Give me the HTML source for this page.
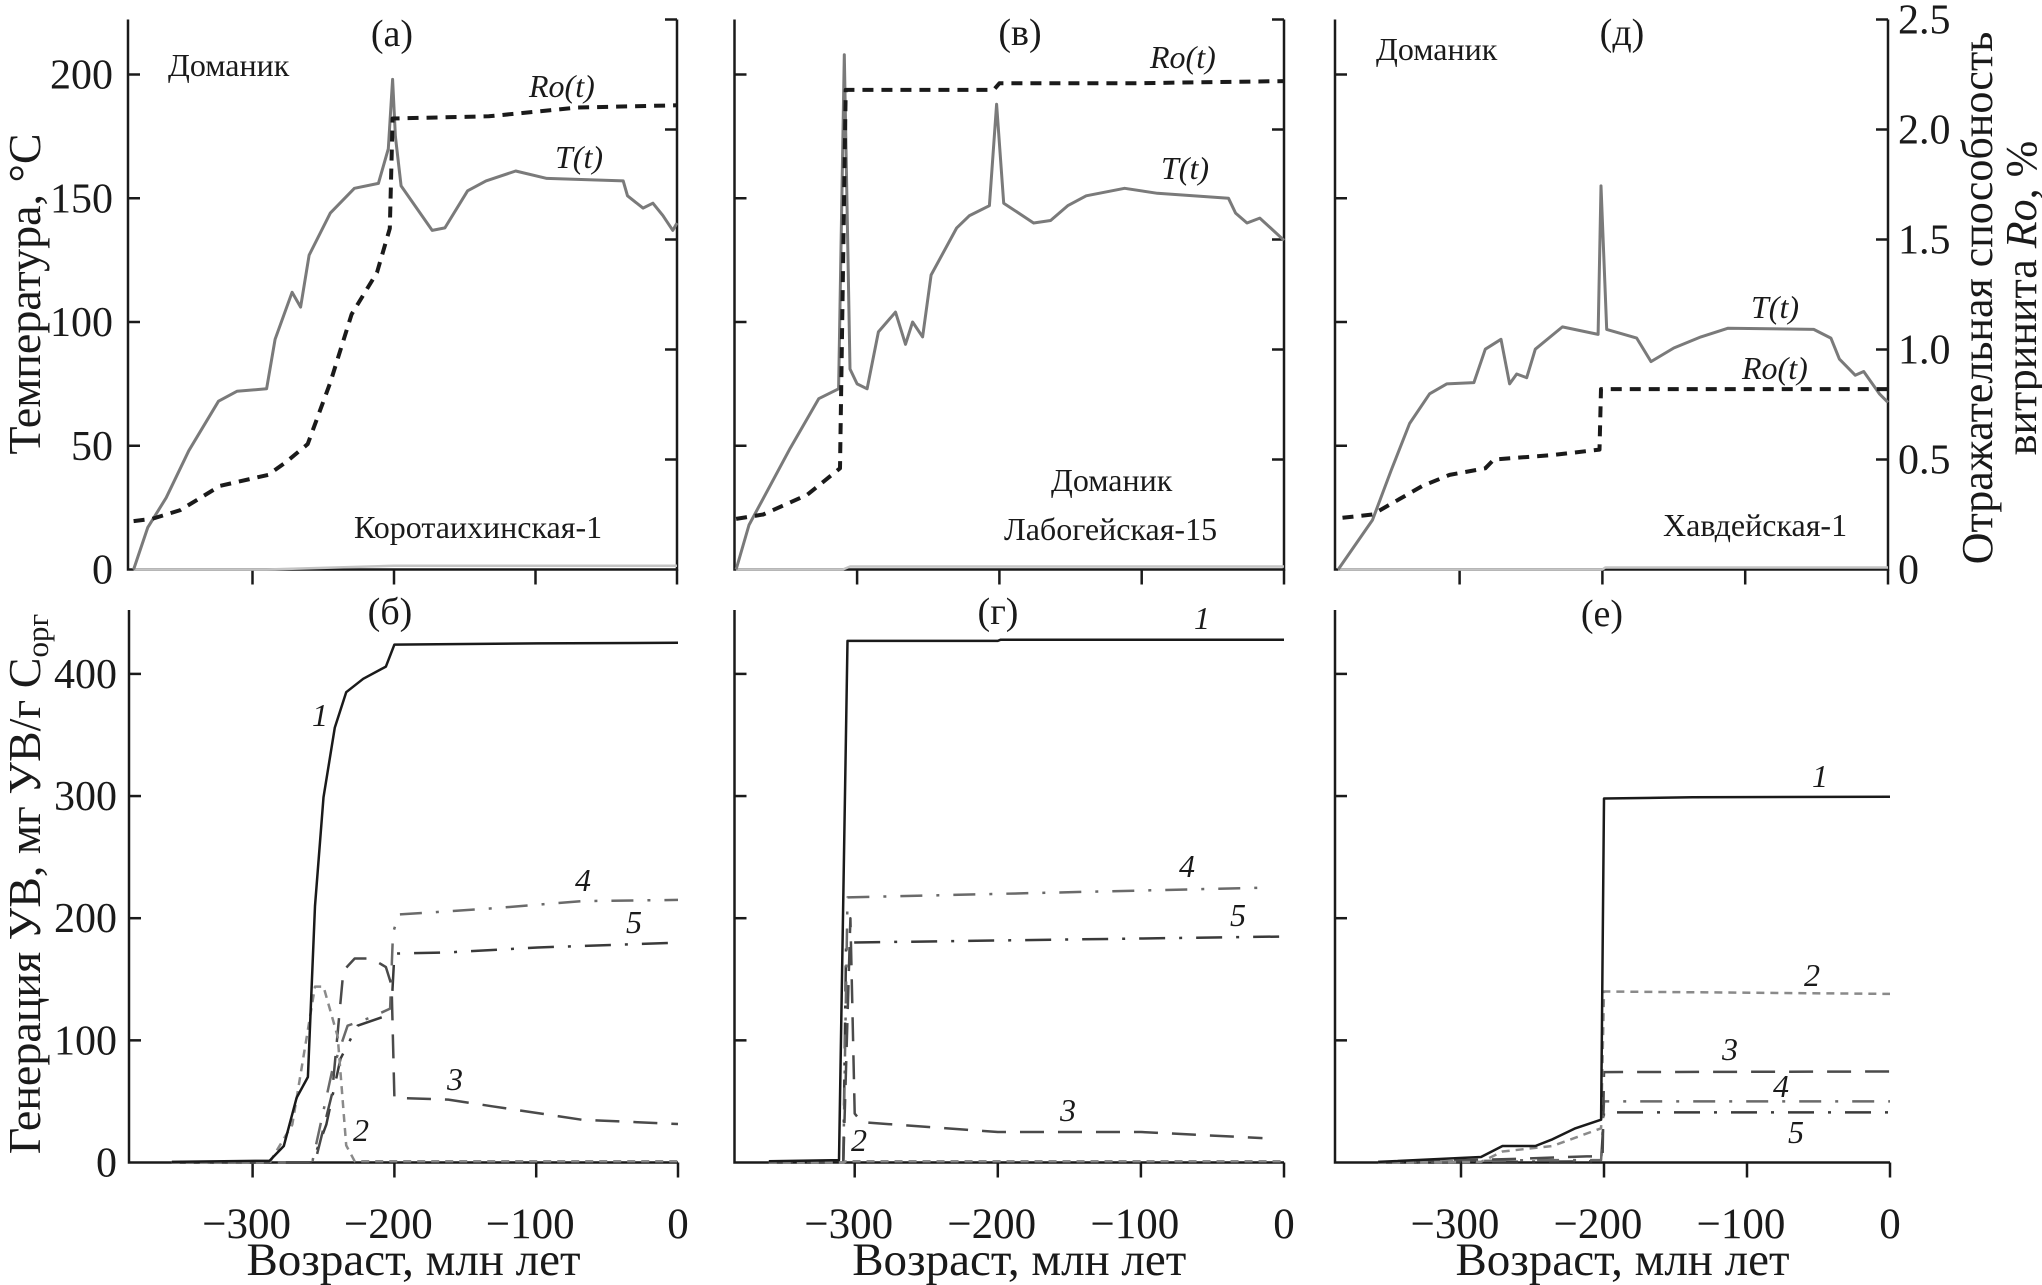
<!DOCTYPE html>
<html><head><meta charset="utf-8">
<style>
html,body{margin:0;padding:0;background:#fff;}
svg{display:block;font-family:"Liberation Serif","DejaVu Serif",serif;}
text{font-family:"Liberation Serif","DejaVu Serif",serif;}
</style></head>
<body>
<svg id="fig" width="2042" height="1285" viewBox="0 0 2042 1285" xmlns="http://www.w3.org/2000/svg">
</svg>
<script>
// ===== Data (age in Ma, negative = past) =====
const aT = [[-384,0],[-374,17],[-361,29],[-345,48],[-324,68],[-311,72],[-290,73],[-284,93],[-272,112],[-266,106],[-260,127],[-245,144],[-228,154],[-211,156],[-204,170],[-201,198],[-199,175],[-195,155],[-173,137],[-164,138],[-148,153],[-135,157],[-114,161],[-92,158],[-38,157],[-35,151],[-24,146],[-17,148],[-10,143],[-3,137],[0,140]];
const aRo = [[-384,0.22],[-371,0.23],[-351,0.27],[-323,0.38],[-289,0.43],[-276,0.49],[-261,0.57],[-245,0.85],[-230,1.16],[-212,1.35],[-203,1.55],[-201,2.05],[-133,2.06],[-70,2.10],[0,2.11]];
const aBase = [[-384,0],[-290,0],[-200,1.5],[0,1.5]];
const vT = [[-385,0],[-376,18],[-347,49],[-327,69],[-313,73],[-309,208],[-305,81],[-300,75],[-293,73],[-285,96],[-273,104],[-266,91],[-261,100],[-254,94],[-248,119],[-230,138],[-221,143],[-207,147],[-202,188],[-197,148],[-176,140],[-164,141],[-152,147],[-139,151],[-112,154],[-89,152],[-39,150],[-34,144],[-26,140],[-17,142],[0,133]];
const vRo = [[-385,0.23],[-366,0.25],[-335,0.34],[-312,0.46],[-308,2.18],[-204,2.18],[-200,2.21],[-108,2.21],[0,2.22]];
const vBase = [[-385,0],[-310,0],[-305,1.2],[0,1.2]];
const dT = [[-385,0],[-361,20],[-348,40],[-335,59],[-321,71],[-309,75],[-290,75.5],[-282,89],[-271,93],[-265,75],[-260,79],[-253,77.5],[-247,89],[-228,98],[-203,95],[-201,155],[-197,97],[-176,93.5],[-166,84],[-150,89.5],[-131,94],[-112,97.5],[-52,97],[-40,93.5],[-34,85],[-23,78.5],[-17,80],[-6,71],[0,67.5]];
const dRo = [[-382,0.235],[-361,0.25],[-326,0.38],[-307,0.43],[-282,0.46],[-276,0.50],[-235,0.52],[-202,0.545],[-201,0.82],[0,0.82]];
const dBase = [[-385,0],[-200,0],[-198,0.8],[0,0.8]];
const b1 = [[-357,0.5],[-288,1.5],[-278,13.5],[-269,53],[-261,70],[-256,210],[-250,299],[-242,356],[-234,385],[-222,396],[-206,406],[-200,424],[-99,425],[0,425.5]];
const b2 = [[-357,0],[-288,0],[-272,31],[-256,144],[-250,144],[-240,103],[-234,14],[-228,1],[0,1]];
const b3 = [[-357,0],[-256,0],[-244,56],[-236,157],[-228,167],[-216,167],[-206,160],[-202,145],[-200,53],[-162,51.5],[-131,46],[-68,35],[0,31.5]];
const b4 = [[-357,0],[-258,0],[-244,74.5],[-233,112],[-216,119],[-203,126],[-201,188],[-197,203],[-131,208],[-68,214],[0,215]];
const b5 = [[-357,0],[-258,0],[-248,31],[-238,85],[-226,112],[-206,120],[-202,128],[-200,171],[-162,172],[-99,176],[0,180]];
const g1 = [[-360,1],[-311,2],[-305,427],[-200,427],[-198,428],[0,428]];
const g2 = [[-360,0],[-308,0],[-306,1],[0,1]];
const g3 = [[-360,0],[-308,0],[-303,200],[-300,40],[-295,33],[-200,25],[-100,25],[-15,20]];
const g4 = [[-308,0],[-305,217],[-15,225]];
const g5 = [[-308,0],[-306,180],[0,185]];
const e1 = [[-358,0.5],[-286,4.5],[-271,13.5],[-248,13.5],[-236,19],[-220,28],[-202,35],[-200,298],[-138,299],[0,299.5]];
const e2 = [[-358,0],[-286,0.5],[-271,9],[-236,13.5],[-202,28],[-200,140],[0,138]];
const e3 = [[-358,0],[-260,3],[-212,5],[-201,5],[-200,74],[0,74.5]];
const e4 = [[-358,0],[-250,2],[-202,2],[-200,50],[0,50]];
const e5 = [[-358,0],[-202,1],[-200,41],[0,41]];

const xTickVals = [-300,-200,-100,0];
const xTickLabels = ['\u2212300','\u2212200','\u2212100','0'];
const tTickVals = [0,50,100,150,200];
const roTickVals = [0,0.5,1.0,1.5,2.0,2.5];
const roTickLabels = ['0','0.5','1.0','1.5','2.0','2.5'];
const genTickVals = [0,100,200,300,400];

const NS='http://www.w3.org/2000/svg';
const svg=document.getElementById('fig');
function mk(tag,attrs,parent){const e=document.createElementNS(NS,tag);for(const k in attrs)e.setAttribute(k,attrs[k]);(parent||svg).appendChild(e);return e;}
function txt(s,x,y,size,anchor,parent,italic){const t=mk('text',{x:x,y:y,'font-size':size,'text-anchor':anchor||'start',fill:'#1a1a1a'},parent);if(italic)t.setAttribute('font-style','italic');t.textContent=s;return t;}

const TOP_Y0=569.5, TOP_K=2.475, RO_K=220;
const BOT_Y0=1162.5, BOT_K=1.2215, BOT_TOP=610;
const panels=[
 {id:'a',x0:677,k:1.415,left:128},
 {id:'v',x0:1284,k:1.423,left:734.5},
 {id:'d',x0:1888,k:1.428,left:1335},
 {id:'b',x0:678,k:1.418,left:129},
 {id:'g',x0:1284,k:1.431,left:734.5},
 {id:'e',x0:1890,k:1.43,left:1335}
];
function xf(p,age){return p.x0+age*p.k;}
function yT(v){return TOP_Y0-v*TOP_K;}
function yRo(v){return TOP_Y0-v*RO_K;}
function yG(v){return BOT_Y0-v*BOT_K;}
function line(p,data,yfn,style,name,parent){
  const d=data.map((pt,i)=>(i?'L':'M')+xf(p,pt[0]).toFixed(1)+' '+yfn(pt[1]).toFixed(1)).join(' ');
  const el=mk('path',{d:d,fill:'none',stroke:style.c,'stroke-width':style.w,'stroke-dasharray':style.da||'none','stroke-linejoin':'round'},parent);
  
  
  return el;
}
const sT={c:'#7a7a7a',w:3};
const sRo={c:'#1a1a1a',w:4,da:'11 8'};
const sBase={c:'#c4c4c4',w:2.5};
const s1={c:'#1a1a1a',w:2.5};
const s2={c:'#8a8a8a',w:2.5,da:'8 6'};
const s3={c:'#4a4a4a',w:2.5,da:'24 14'};
const s4={c:'#6a6a6a',w:2.5,da:'22 14 3 14'};
const s5={c:'#3a3a3a',w:2.5,da:'26 14 3 14'};

function topPanel(p,T,Ro,Base,labels){
  const g=mk('g',{});
  
  
  const right=p.x0, top=yRo(2.5), bot=TOP_Y0;
  mk('path',{d:`M${p.left} ${top} V${bot} H${right} V${top}`,fill:'none',stroke:'#1a1a1a','stroke-width':2.5},g);
  tTickVals.forEach(v=>{ if(v>0) mk('line',{x1:p.left,x2:p.left+12,y1:yT(v),y2:yT(v),stroke:'#1a1a1a','stroke-width':2.5},g);});
  roTickVals.forEach(v=>{ if(v>0) mk('line',{x1:right-12,x2:right,y1:yRo(v),y2:yRo(v),stroke:'#1a1a1a','stroke-width':2.5},g);});
  xTickVals.forEach(v=>{ mk('line',{x1:xf(p,v),x2:xf(p,v),y1:bot,y2:bot+15,stroke:'#1a1a1a','stroke-width':2.5},g);});
  line(p,Base,yT,sBase,'gas-baseline-'+p.id,g);
  line(p,T,yT,sT,'temperature-line-'+p.id,g);
  line(p,Ro,yRo,sRo,'ro-line-'+p.id,g);
  labels.forEach(l=>{const t=txt(l[0],l[1],l[2],l[3],l[4],g,l[5]);});
}
function botPanel(p,series,labels){
  const g=mk('g',{});
  
  
  const right=p.x0, bot=BOT_Y0;
  mk('path',{d:`M${p.left} ${BOT_TOP} V${bot} H${right}`,fill:'none',stroke:'#1a1a1a','stroke-width':2.5},g);
  genTickVals.forEach(v=>{ if(v>0) mk('line',{x1:p.left,x2:p.left+12,y1:yG(v),y2:yG(v),stroke:'#1a1a1a','stroke-width':2.5},g);});
  xTickVals.forEach((v,i)=>{ mk('line',{x1:xf(p,v),x2:xf(p,v),y1:bot,y2:bot+15,stroke:'#1a1a1a','stroke-width':2.5},g);
    const t=txt(xTickLabels[i],xf(p,v)+(v===0?0:-6),1238,43,'middle',g);
    
    });
  const ax=txt('Возраст, млн лет',(p.left+right)/2+10,1275,47,'middle',g);
  
  
  const styles=[s1,s2,s3,s4,s5];
  [4,3,2,1,0].forEach(i=>line(p,series[i],yG,styles[i],'series-'+(i+1)+'-'+p.id,g));
  labels.forEach(l=>{const t=txt(l[0],l[1],l[2],l[3],l[4],g,l[5]);});
}

topPanel(panels[0],aT,aRo,aBase,[
 ['(а)',392,46,38,'middle',false,'panel-label-a'],
 ['Доманик',168,76,32,'start',false,'formation-label'],
 ['Коротаихинская-1',354,538,32,'start',false,'well-label'],
 ['Ro(t)',529,97,32,'start',true,'ro-curve-label'],
 ['T(t)',555,168,32,'start',true,'t-curve-label']]);
topPanel(panels[1],vT,vRo,vBase,[
 ['(в)',1020,45,38,'middle',false,'panel-label-v'],
 ['Ro(t)',1150,68,32,'start',true,'ro-curve-label'],
 ['T(t)',1161,179,32,'start',true,'t-curve-label'],
 ['Доманик',1051,491,32,'start',false,'formation-label'],
 ['Лабогейская-15',1004,540,32,'start',false,'well-label']]);
topPanel(panels[2],dT,dRo,dBase,[
 ['(д)',1622,45,38,'middle',false,'panel-label-d'],
 ['Доманик',1376,60,32,'start',false,'formation-label'],
 ['T(t)',1751,318,32,'start',true,'t-curve-label'],
 ['Ro(t)',1742,379,32,'start',true,'ro-curve-label'],
 ['Хавдейская-1',1663,536,32,'start',false,'well-label']]);

botPanel(panels[3],[b1,b2,b3,b4,b5],[
 ['(б)',390,624,38,'middle',false,'panel-label-b'],
 ['1',320,726,32,'middle',true,'series-1-label'],
 ['4',583,891,32,'middle',true,'series-4-label'],
 ['5',634,933,32,'middle',true,'series-5-label'],
 ['3',455,1090,32,'middle',true,'series-3-label'],
 ['2',361,1141,32,'middle',true,'series-2-label']]);
botPanel(panels[4],[g1,g2,g3,g4,g5],[
 ['(г)',998,624,38,'middle',false,'panel-label-g'],
 ['1',1202,629,32,'middle',true,'series-1-label'],
 ['4',1187,877,32,'middle',true,'series-4-label'],
 ['5',1238,926,32,'middle',true,'series-5-label'],
 ['3',1068,1121,32,'middle',true,'series-3-label'],
 ['2',859,1151,32,'middle',true,'series-2-label']]);
botPanel(panels[5],[e1,e2,e3,e4,e5],[
 ['(е)',1602,626,38,'middle',false,'panel-label-e'],
 ['1',1820,787,32,'middle',true,'series-1-label'],
 ['2',1812,986,32,'middle',true,'series-2-label'],
 ['3',1730,1060,32,'middle',true,'series-3-label'],
 ['4',1781,1097,32,'middle',true,'series-4-label'],
 ['5',1796,1143,32,'middle',true,'series-5-label']]);

tTickVals.forEach(v=>{const t=txt(String(v),113,yT(v)+14,42,'end');
 
 });
genTickVals.forEach(v=>{const t=txt(String(v),117,yG(v)+14,42,'end');
 
 });
roTickVals.forEach((v,i)=>{const t=txt(roTickLabels[i],1898,yRo(v)+14,42,'start');
 
 });

const yt1=txt('Температура, °С',0,0,46,'middle');
yt1.setAttribute('transform','translate(40,294) rotate(-90)');


const yt2=mk('text',{'font-size':46,'text-anchor':'middle',fill:'#1a1a1a',transform:'translate(40,884) rotate(-90)'});
yt2.innerHTML='Генерация УВ, мг УВ/г С<tspan font-size="31" dy="8">орг</tspan>';


const rt=mk('text',{'font-size':44,'text-anchor':'middle',fill:'#1a1a1a',transform:'translate(1992,298) rotate(-90)'});
rt.textContent='Отражательная способность';


const rt2=mk('text',{'font-size':44,'text-anchor':'middle',fill:'#1a1a1a',transform:'translate(2036,298) rotate(-90)'});
rt2.innerHTML='витринита <tspan font-style="italic">Ro</tspan>, %';


</script>
</body></html>
